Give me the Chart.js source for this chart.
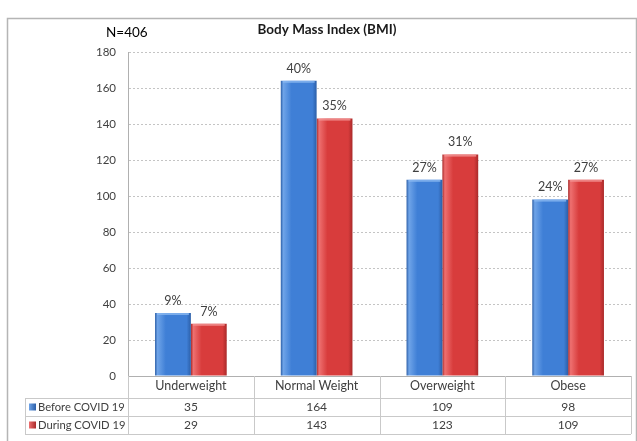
<!DOCTYPE html>
<html><head><meta charset="utf-8">
<script src="https://cdn.jsdelivr.net/npm/chart.js@4/dist/chart.umd.min.js"></script>
<style>html,body{margin:0;padding:0;background:#fff;overflow:hidden}#wrap{width:637px;height:441px}</style>
</head><body><div id="wrap"><canvas id="c" width="637" height="441"></canvas></div>
<script>
// ---- data ----
const categories = ['Underweight', 'Normal Weight', 'Overweight', 'Obese'];
const seriesNames = ['Before COVID 19', 'During COVID 19'];
const beforeValues = [35, 164, 109, 98];
const duringValues = [29, 143, 123, 109];
const beforePct = ['9%', '40%', '27%', '24%'];
const duringPct = ['7%', '35%', '31%', '27%'];
const yMin = 0, yMax = 180, yStep = 20;
const titleText = 'Body Mass Index (BMI)';
const sampleText = 'N=406';

// ---- style ----
const FONT = 'Lato';
const TXT = '#404040';
const CAT_PCT = 0.57;
const seriesColors = [
  {dark: '#2c5fa8', light: '#6fa4e8', mid: '#3f7fd6', top: '#8ab8f0'},
  {dark: '#a92a2a', light: '#ee7070', mid: '#d83c3c', top: '#f29494'}
];
const pctLabels = [beforePct, duringPct];

function barFill(ctx) {
  const c = seriesColors[ctx.datasetIndex];
  const chart = ctx.chart, xs = chart.scales.x;
  if (!xs || ctx.type !== 'data' || !isFinite(xs.width) || xs.width <= 0) return c.mid;
  const catW = xs.width / categories.length;
  const groupW = catW * CAT_PCT, barW = groupW / 2;
  const left = xs.getPixelForValue(ctx.dataIndex) - groupW / 2 + ctx.datasetIndex * barW;
  const g = chart.ctx.createLinearGradient(left, 0, left + barW, 0);
  g.addColorStop(0, c.dark);
  g.addColorStop(0.07, c.light);
  g.addColorStop(0.3, c.mid);
  g.addColorStop(0.88, c.mid);
  g.addColorStop(1, c.dark);
  return g;
}

const framePlugin = {
  id: 'frame',
  beforeDraw(chart) {
    const ctx = chart.ctx;
    ctx.save();
    ctx.fillStyle = '#fff';
    ctx.fillRect(0, 0, chart.width, chart.height);
    ctx.strokeStyle = '#b5b5b5';
    ctx.lineWidth = 1.5;
    ctx.strokeRect(7.5, 18.5, 629, 440);
    ctx.restore();
  },
  afterDraw(chart) {
    const ctx = chart.ctx;
    ctx.save();
    ctx.fillStyle = '#1a1a1a';
    ctx.textBaseline = 'middle';
    ctx.font = 'bold 13.5px ' + FONT;
    ctx.textAlign = 'center';
    ctx.fillText(titleText, 327, 30);
    ctx.font = '13.5px ' + FONT;
    ctx.textAlign = 'left';
    ctx.fillStyle = '#000';
    ctx.fillText(sampleText, 106, 33);
    ctx.restore();
  }
};

const barTopPlugin = {
  id: 'barTop',
  afterDatasetsDraw(chart) {
    const ctx = chart.ctx;
    ctx.save();
    chart.data.datasets.forEach((ds, di) => {
      const meta = chart.getDatasetMeta(di);
      meta.data.forEach((el, i) => {
        const w = el.width;
        ctx.fillStyle = seriesColors[di].top;
        ctx.globalAlpha = 0.8;
        ctx.fillRect(el.x - w / 2 + 2, el.y, w - 4, 2);
        ctx.globalAlpha = 1;
        ctx.fillStyle = TXT;
        ctx.font = '12.5px ' + FONT;
        ctx.textAlign = 'center';
        ctx.textBaseline = 'bottom';
        ctx.fillText(pctLabels[di][i], el.x, el.y - 6);
      });
    });
    ctx.restore();
  }
};

const tablePlugin = {
  id: 'dataTable',
  afterDraw(chart) {
    const ctx = chart.ctx, xs = chart.scales.x;
    const n = categories.length;
    const catW = (xs.right - xs.left) / n;
    const top = Math.round(chart.chartArea.bottom);
    const rowH = 18;
    const r1 = top + 22, r2 = r1 + rowH, r3 = r2 + rowH;
    const tableLeft = 25;
    ctx.save();
    ctx.strokeStyle = '#c9c9c9';
    ctx.lineWidth = 1;
    ctx.beginPath();
    for (let i = 0; i <= n; i++) {
      const x = Math.round(xs.left + i * catW) + 0.5;
      ctx.moveTo(x, top); ctx.lineTo(x, r3);
    }
    [r1, r2, r3].forEach(y => { ctx.moveTo(tableLeft, y + 0.5); ctx.lineTo(xs.right, y + 0.5); });
    ctx.moveTo(tableLeft + 0.5, r1); ctx.lineTo(tableLeft + 0.5, r3);
    ctx.stroke();

    const rows = [beforeValues, duringValues];
    ctx.textBaseline = 'middle';
    rows.forEach((vals, ri) => {
      const yc = r1 + ri * rowH + rowH / 2 + 0.5;
      ctx.font = '12px ' + FONT;
      ctx.textAlign = 'center';
      ctx.fillStyle = TXT;
      vals.forEach((v, i) => ctx.fillText(String(v), xs.getPixelForValue(i), yc));
      // legend key
      const c = seriesColors[ri];
      const g = ctx.createLinearGradient(29, 0, 36, 0);
      g.addColorStop(0, c.light); g.addColorStop(1, c.dark);
      ctx.fillStyle = g;
      ctx.fillRect(29, yc - 4, 7, 7);
      ctx.fillStyle = TXT;
      ctx.textAlign = 'left';
      ctx.font = '11.2px ' + FONT;
      ctx.fillText(seriesNames[ri], 38, yc);
    });
    ctx.restore();
  }
};

new Chart(document.getElementById('c'), {
  type: 'bar',
  data: {
    labels: categories,
    datasets: [
      {label: seriesNames[0], data: beforeValues, backgroundColor: barFill, borderWidth: 0},
      {label: seriesNames[1], data: duringValues, backgroundColor: barFill, borderWidth: 0}
    ]
  },
  options: {
    responsive: false,
    animation: false,
    devicePixelRatio: 1,
    layout: {padding: {top: 52, right: 6, left: 0, bottom: 0}},
    datasets: {bar: {categoryPercentage: CAT_PCT, barPercentage: 1}},
    plugins: {legend: {display: false}, tooltip: {enabled: false}, title: {display: false}},
    scales: {
      x: {
        grid: {display: false, drawTicks: false},
        border: {display: true, color: '#b0b0b0', width: 1},
        ticks: {color: TXT, font: {family: FONT, size: 12.5}, padding: 2, maxRotation: 0},
        afterFit(s) { s.height = 65; }
      },
      y: {
        min: yMin, max: yMax,
        ticks: {stepSize: yStep, color: TXT, font: {family: FONT, size: 11.5}, padding: 12},
        grid: {color: '#c4c4c4', drawTicks: false, lineWidth: 1},
        border: {display: true, color: '#b0b0b0', width: 1, dash: [2, 2]},
        afterFit(s) { s.width = 128; }
      }
    }
  },
  plugins: [framePlugin, barTopPlugin, tablePlugin]
});
</script>
</body></html>
